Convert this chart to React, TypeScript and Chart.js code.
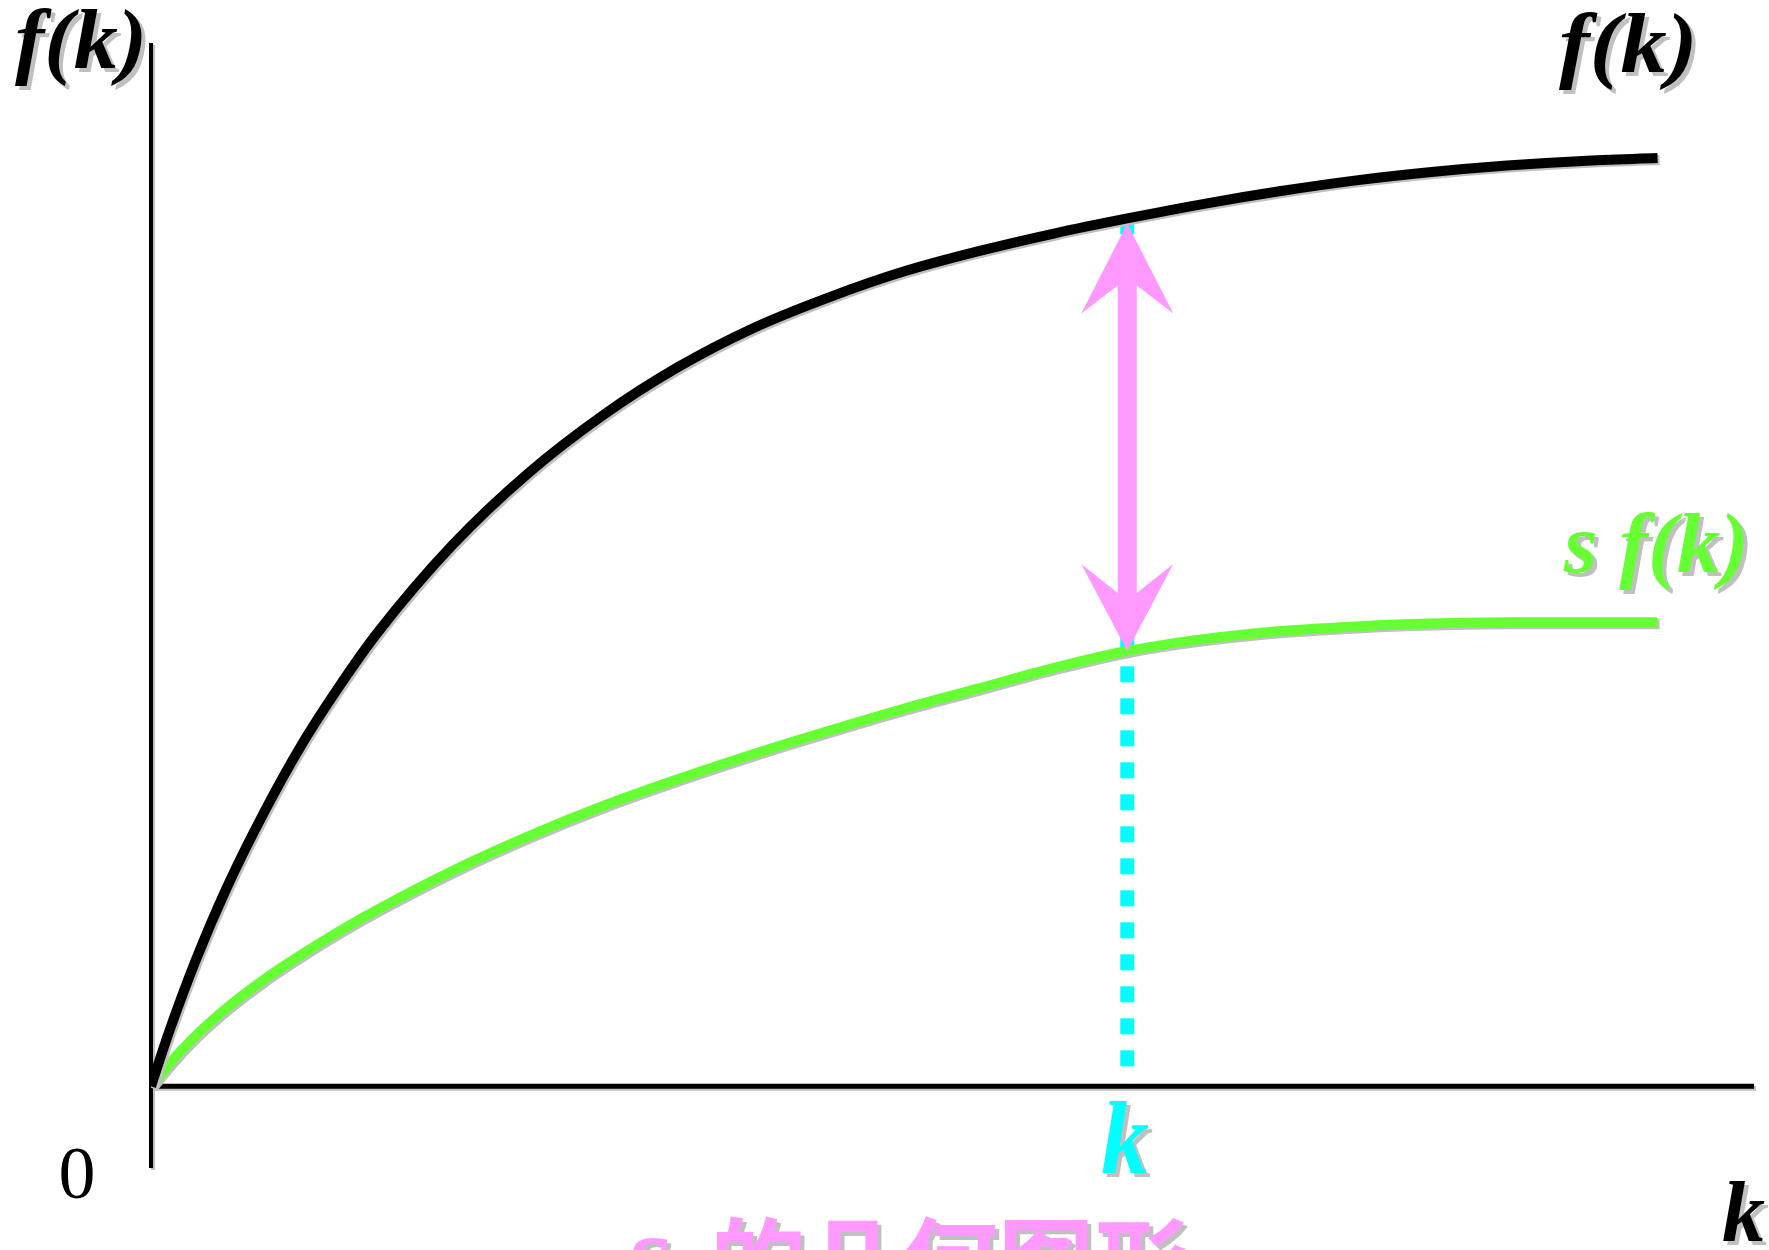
import { useEffect, useRef } from "react";
import { Chart, registerables } from "chart.js";

Chart.register(...registerables);

// Capital per worker k (horizontal axis)
const capitalPerWorker = [0, 0.125, 0.3, 0.5, 0.75, 1, 1.25, 1.5, 2, 2.5, 3, 3.5, 4, 4.5, 5, 5.5, 6, 6.48, 7, 7.5, 8, 8.5, 9, 9.5, 10];
// Output per worker f(k)
const outputPerWorker = [0, 0.61, 1.37, 2.13, 2.95, 3.68, 4.31, 4.88, 5.83, 6.6, 7.23, 7.75, 8.17, 8.5, 8.78, 9.0, 9.19, 9.35, 9.51, 9.645, 9.76, 9.85, 9.92, 9.97, 10];
// Saving per worker s·f(k)
const savingPerWorker = [0, 0.25, 0.55, 0.84, 1.15, 1.42, 1.67, 1.9, 2.32, 2.69, 3.02, 3.31, 3.58, 3.83, 4.07, 4.29, 4.51, 4.69, 4.82, 4.905, 4.955, 4.985, 5.0, 5.0, 5.0];

// The marked capital level and its index in the series
const markedK = 6.48;
const markedIndex = capitalPerWorker.indexOf(markedK);

// Axis extents
const kAxisMax = 10.64;
const fAxisMax = 11.24;
const fAxisMin = -0.88;

const outputLabel = "f(k)";
const savingLabel = "s f(k)";
const markedLabel = "k";
const kAxisLabel = "k";
const originLabel = "0";
const captionLatin = "s";
const captionText = "的几何图形";

const SERIF = '"Liberation Serif", "DejaVu Serif", serif';
const CJK = '"Noto Sans CJK SC", "Noto Sans", sans-serif';
const SHADOW = "#c0c0c0";
const GREEN = "#66ff33";
const PINK = "#ff99ff";
const CYAN = "#00ffff";

function shadowText(
  ctx: CanvasRenderingContext2D,
  text: string,
  x: number,
  y: number,
  font: string,
  color: string,
  align: CanvasTextAlign = "left",
  scaleX = 1,
  off = 4
) {
  ctx.save();
  ctx.font = font;
  ctx.textAlign = align;
  ctx.textBaseline = "alphabetic";
  ctx.translate(x, y);
  ctx.scale(scaleX, 1);
  if (off > 0) {
    ctx.fillStyle = SHADOW;
    ctx.fillText(text, off / scaleX, off);
  }
  ctx.fillStyle = color;
  ctx.fillText(text, 0, 0);
  ctx.restore();
}

const diagramPlugin = {
  id: "solowDiagram",
  beforeDatasetsDraw(chart: any) {
    const { ctx, scales } = chart;
    const x = scales.x;
    const y = scales.y;
    const x0 = x.getPixelForValue(0);
    const y0 = y.getPixelForValue(0);

    // Axes
    ctx.save();
    ctx.shadowColor = SHADOW;
    ctx.shadowOffsetX = 2;
    ctx.shadowOffsetY = 2;
    ctx.shadowBlur = 0;
    ctx.strokeStyle = "#000";
    ctx.lineCap = "butt";
    ctx.lineWidth = 4;
    ctx.beginPath();
    ctx.moveTo(x0, y.getPixelForValue(fAxisMax));
    ctx.lineTo(x0, y.getPixelForValue(fAxisMin));
    ctx.stroke();
    ctx.lineWidth = 5;
    ctx.beginPath();
    ctx.moveTo(x0, y0);
    ctx.lineTo(x.getPixelForValue(kAxisMax), y0);
    ctx.stroke();
    ctx.restore();

    // Dotted guide from the marked k up to f(k)
    const gx = x.getPixelForValue(markedK);
    const gTop = y.getPixelForValue(outputPerWorker[markedIndex]);
    ctx.save();
    ctx.strokeStyle = CYAN;
    ctx.lineWidth = 14;
    ctx.setLineDash([16, 16]);
    ctx.beginPath();
    ctx.moveTo(gx, y0 - 20);
    ctx.lineTo(gx, gTop);
    ctx.stroke();
    ctx.restore();
  },
  beforeDatasetDraw(chart: any) {
    const ctx = chart.ctx;
    ctx.save();
    ctx.shadowColor = SHADOW;
    ctx.shadowOffsetX = 2;
    ctx.shadowOffsetY = 2;
    ctx.shadowBlur = 0;
  },
  afterDatasetDraw(chart: any) {
    chart.ctx.restore();
  },
  afterDatasetsDraw(chart: any) {
    const { ctx, scales } = chart;
    const x = scales.x;
    const y = scales.y;

    // Double arrow between f(k) and s f(k) at the marked k
    const cx = x.getPixelForValue(markedK);
    const T = y.getPixelForValue(outputPerWorker[markedIndex]) + 5;
    const B = y.getPixelForValue(savingPerWorker[markedIndex]);
    const hw = 46;
    const sw = 9.5;
    ctx.save();
    ctx.fillStyle = PINK;
    ctx.beginPath();
    ctx.moveTo(cx, T);
    ctx.lineTo(cx + hw, T + 90);
    ctx.lineTo(cx + sw, T + 62);
    ctx.lineTo(cx + sw, B - 58);
    ctx.lineTo(cx + hw, B - 87);
    ctx.lineTo(cx, B);
    ctx.lineTo(cx - hw, B - 87);
    ctx.lineTo(cx - sw, B - 58);
    ctx.lineTo(cx - sw, T + 62);
    ctx.lineTo(cx - hw, T + 90);
    ctx.closePath();
    ctx.fill();
    ctx.restore();

    // Labels
    const bi84 = `italic bold 84px ${SERIF}`;
    shadowText(ctx, outputLabel, 15, 68, bi84, "#000", "left", 1.05);
    shadowText(ctx, outputLabel, 1559, 72, bi84, "#000", "left", 1.1);
    shadowText(ctx, savingLabel, 1564, 572, bi84, GREEN, "left", 1.03);
    shadowText(ctx, markedLabel, cx - 2, 1173, `italic bold 104px ${SERIF}`, CYAN, "center", 0.92);
    shadowText(ctx, originLabel, 77, 1198, `74px ${SERIF}`, "#000", "center", 1, 0);
    shadowText(ctx, kAxisLabel, 1722, 1241, `italic bold 86px ${SERIF}`, "#000");
    shadowText(ctx, captionLatin, 628, 1290, `italic bold 110px ${SERIF}`, PINK);
    shadowText(ctx, captionText, 710, 1298, `bold 96px ${CJK}`, PINK);
  },
};

export default function App() {
  const canvasRef = useRef<HTMLCanvasElement | null>(null);

  useEffect(() => {
    const canvas = canvasRef.current;
    if (!canvas) return;
    const chart = new Chart(canvas, {
      type: "line",
      data: {
        datasets: [
          {
            label: "f(k)",
            data: capitalPerWorker.map((k, i) => ({ x: k, y: outputPerWorker[i] })),
            borderColor: "#000",
            borderWidth: 10,
            pointRadius: 0,
            cubicInterpolationMode: "monotone",
            fill: false,
          },
          {
            label: "s f(k)",
            data: capitalPerWorker.map((k, i) => ({ x: k, y: savingPerWorker[i] })),
            borderColor: GREEN,
            borderWidth: 10,
            pointRadius: 0,
            cubicInterpolationMode: "monotone",
            fill: false,
          },
        ],
      },
      options: {
        animation: false,
        responsive: false,
        devicePixelRatio: 1,
        events: [],
        layout: { padding: { left: 151, top: 43, right: 15, bottom: 82 } },
        scales: {
          x: { type: "linear", min: 0, max: kAxisMax, display: false },
          y: { type: "linear", min: fAxisMin, max: fAxisMax, display: false },
        },
        plugins: {
          legend: { display: false },
          tooltip: { enabled: false },
        },
      },
      plugins: [diagramPlugin],
    });
    return () => chart.destroy();
  }, []);

  return (
    <div style={{ position: "fixed", left: 0, top: 0, width: 1769, height: 1250, background: "#fff" }}>
      <canvas ref={canvasRef} width={1769} height={1250} style={{ width: 1769, height: 1250, display: "block" }} />
    </div>
  );
}
